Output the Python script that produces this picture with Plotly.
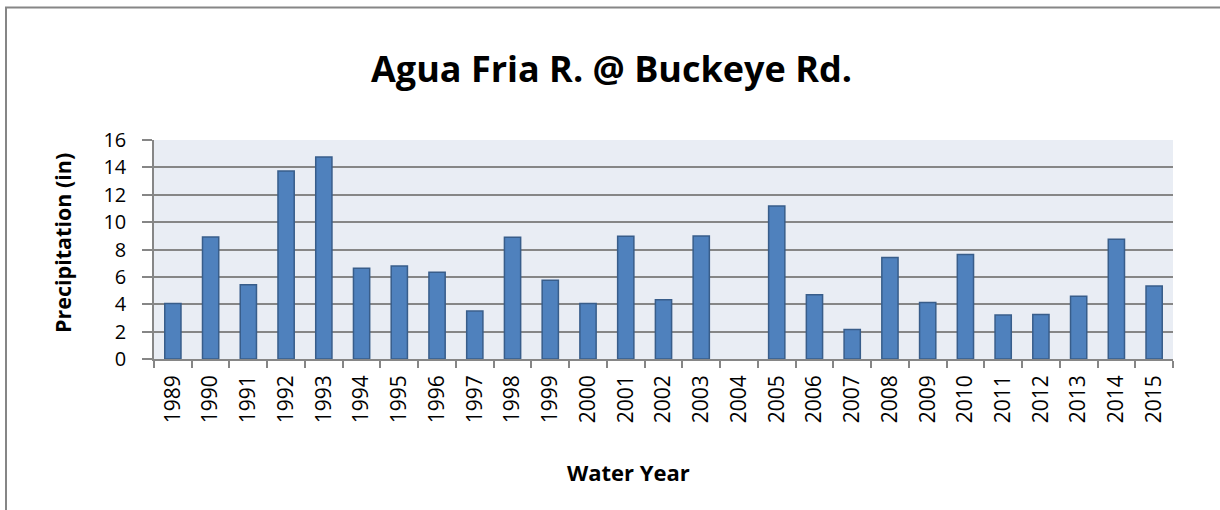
import plotly.graph_objects as go

years = [str(y) for y in range(1989, 2016)]
precip = [4.05, 8.92, 5.42, 13.73, 14.75, 6.63, 6.80, 6.34, 3.50,
          8.89, 5.76, 4.06, 8.96, 4.33, 8.99, None, 11.17, 4.69, 2.16,
          7.41, 4.13, 7.63, 3.21, 3.26, 4.59, 8.75, 5.34]
y_ticks = [0, 2, 4, 6, 8, 10, 12, 14, 16]

W, H = 1220, 510
L, T = 154, 140
R = W - 1173
B = H - 359
PW, PH = W - L - R, H - T - B

def px(xp):
    return (xp - L) / PW

def py(yp):
    return (H - B - yp) / PH

fig = go.Figure(go.Bar(
    x=years, y=precip,
    marker=dict(color="#4F81BD", line=dict(color="#385D8A", width=1.5)),
))

fig.update_layout(
    width=W, height=H,
    margin=dict(l=L, r=R, t=T, b=B),
    paper_bgcolor="white",
    plot_bgcolor="#E9EDF4",
    bargap=0.57,
    showlegend=False,
    xaxis=dict(
        type="category",
        tickangle=-90,
        tickfont=dict(family="Open Sans", size=21, color="black"),
        showline=True, linecolor="#868686", linewidth=1.5,
        ticks="outside", tickson="boundaries", ticklen=7, tickcolor="#868686", tickwidth=1.5,
        ticklabelstandoff=6,
        showgrid=False,
    ),
    yaxis=dict(
        range=[0, 16],
        tickvals=y_ticks,
        tickfont=dict(family="Open Sans", size=20, color="black"),
        showline=True, linecolor="#868686", linewidth=1.5,
        ticks="outside", ticklen=10, tickcolor="#868686", tickwidth=1.5,
        ticklabelstandoff=12,
        showgrid=True, gridcolor="#868686", gridwidth=1.5,
        zeroline=False,
    ),
    shapes=[dict(type="rect", xref="paper", yref="paper",
                 x0=px(6), x1=px(1240), y0=py(7.5), y1=py(530),
                 line=dict(color="#868686", width=2), fillcolor="rgba(0,0,0,0)",
                 layer="below")],
    annotations=[
        dict(text="<b>Agua Fria R. @ Buckeye Rd.</b>", xref="paper", yref="paper",
             x=px(611), y=py(68), xanchor="center", yanchor="middle", showarrow=False,
             font=dict(family="Open Sans", size=36, color="black")),
        dict(text="<b>Precipitation (in)</b>", xref="paper", yref="paper",
             x=px(62), y=py(243), xanchor="center", yanchor="middle", showarrow=False,
             textangle=-90, font=dict(family="Open Sans", size=21.5, color="black")),
        dict(text="<b>Water Year</b>", xref="paper", yref="paper",
             x=px(628), y=py(472), xanchor="center", yanchor="middle", showarrow=False,
             font=dict(family="Open Sans", size=22, color="black")),
    ],
)

fig.write_html("out.html",
               config={"displayModeBar": False},
               post_script="document.body.style.margin='0';document.body.style.overflow='hidden';")
